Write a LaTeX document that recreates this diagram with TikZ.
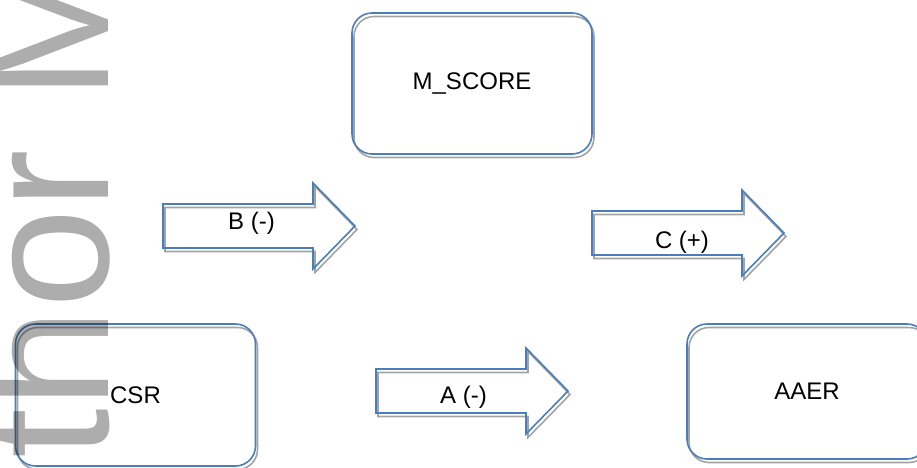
\documentclass[tikz,border=0pt]{standalone}
\usepackage{fontspec}
\setmainfont{Liberation Sans}
\definecolor{outlineblue}{HTML}{4A7EBB}
\definecolor{shadowgrey}{HTML}{A3A3A3}
\tikzset{
  outline/.style={draw=outlineblue, line width=1.6pt, line join=miter},
  shadowline/.style={draw=shadowgrey, line width=1.6pt},
  labelfont/.style={font=\fontsize{24}{28}\selectfont},
  boxnode/.style={outline, labelfont, rounded corners=20pt, inner sep=0pt,
    minimum width=240pt,
    preaction={draw=shadowgrey, line width=1.6pt,
      transform canvas={xshift=2pt, yshift=-3.5pt}}},
  arrowlabel/.style={labelfont, anchor=base, inner sep=0pt},
  % block arrow, origin at the middle of the shaft's left end
  blockarrow/.pic={
    \draw[shadowline, shift={(2,3.5)}] (0,-22) -- (150,-22) -- (150,-43)
      -- (192,0) -- (150,43) -- (150,22) -- (0,22) -- cycle;
    \draw[outline] (0,-22) -- (150,-22) -- (150,-43)
      -- (192,0) -- (150,43) -- (150,22) -- (0,22) -- cycle;
  },
  watermark/.style={text=black, text opacity=0.32, inner sep=0pt,
    font=\fontsize{179}{179}\selectfont}
}
\begin{document}
\begin{tikzpicture}[x=1pt, y=-1pt]
  \useasboundingbox (0,0) rectangle (917,467);
  \begin{scope}
    \clip (0,0) rectangle (917,467);

    % the three measures
    \node[boxnode, minimum height=141pt] (mscore) at (472,83.5) {M\_SCORE};
    \node[boxnode, minimum height=142pt] (csr) at (135.5,395) {CSR};
    \node[boxnode, minimum height=135pt] (aaer) at (807,391.5) {AAER};

    % block arrows with their path labels
    \pic (arrb) at (163,226) {blockarrow};
    \pic (arrc) at (592,233) {blockarrow};
    \pic (arra) at (376,391) {blockarrow};
    \node[arrowlabel] (lblb) at (251.5,229) {B (-)};
    \node[arrowlabel] (lblc) at (682,248) {C (+)};
    \node[arrowlabel] (lbla) at (463.5,403) {A (-)};

    % grey sideways stamp along the left edge
    \node[watermark, rotate=90, anchor=base west] (stamp) at (108,458.4) {thor M};
  \end{scope}
\end{tikzpicture}
\end{document}
